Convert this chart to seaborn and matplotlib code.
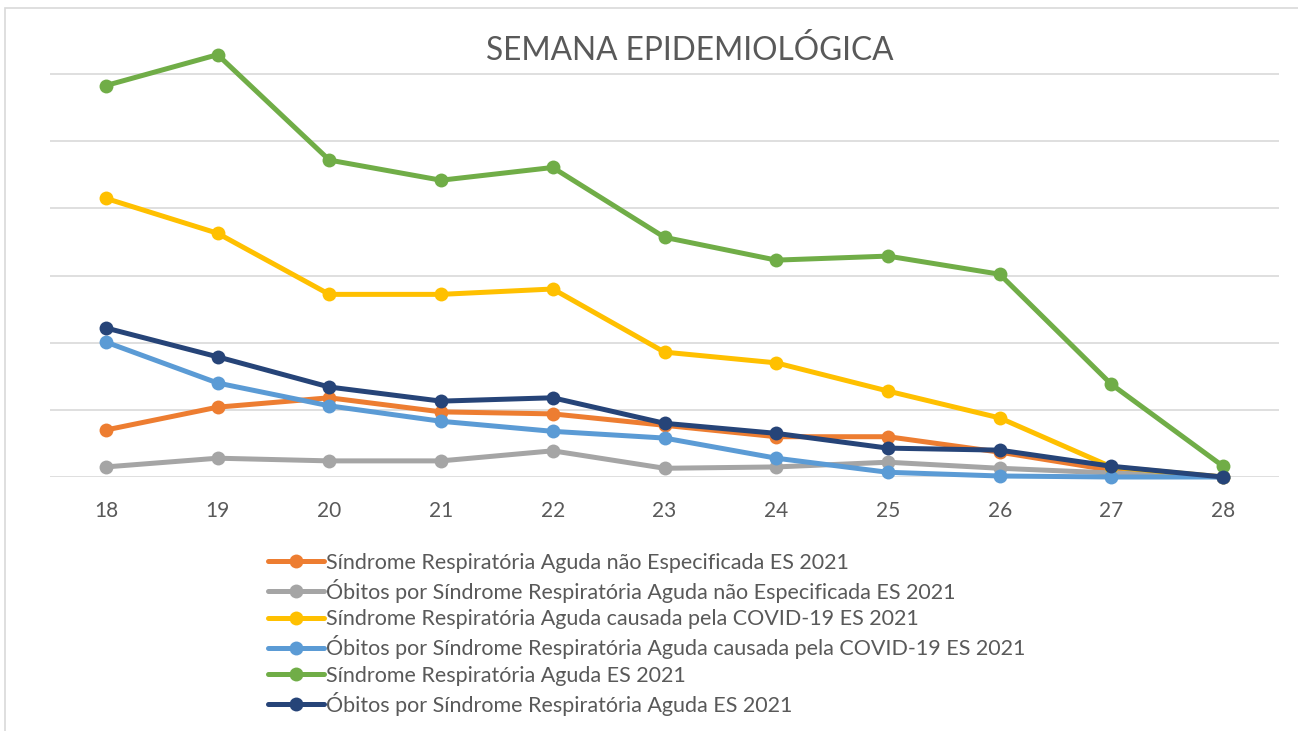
import pandas as pd
import numpy as np
import matplotlib
matplotlib.use("Agg")
import matplotlib.pyplot as plt
import seaborn as sns
from matplotlib.patches import Rectangle

semanas = [18, 19, 20, 21, 22, 23, 24, 25, 26, 27, 28]

srag_nao_espec = [70, 104, 118, 97, 94, 77, 60, 60, 37, 10, 0]
obitos_nao_espec = [15, 28, 24, 24, 39, 13, 15, 22, 13, 6, 0]
srag_covid = [415, 363, 272, 272, 280, 186, 170, 128, 88, 15, 0]
obitos_covid = [201, 140, 106, 83, 68, 58, 28, 7, 1.5, 0, 0]
srag_total = [583, 629, 472, 442, 461, 357, 323, 329, 302, 138, 16]
obitos_total = [222, 179, 134, 113, 118, 80, 65, 43, 40, 16, 0]

nomes = [
    "Síndrome Respiratória Aguda não Especificada ES 2021",
    "Óbitos por Síndrome Respiratória Aguda não Especificada ES 2021",
    "Síndrome Respiratória Aguda causada pela COVID-19 ES 2021",
    "Óbitos por Síndrome Respiratória Aguda causada pela COVID-19 ES 2021",
    "Síndrome Respiratória Aguda ES 2021",
    "Óbitos por Síndrome Respiratória Aguda ES 2021",
]
cores = ["#ED7D31", "#A5A5A5", "#FFC000", "#5B9BD5", "#70AD47", "#264478"]
series = [srag_nao_espec, obitos_nao_espec, srag_covid, obitos_covid, srag_total, obitos_total]

sns.set_style("white")
plt.rcParams["font.family"] = ["Lato", "DejaVu Sans"]

fig = plt.figure(figsize=(12.98, 7.31), dpi=100)
# chart frame
fig.patches.append(Rectangle((5 / 1298, -0.05), 1.1, 1 - 8 / 731 + 0.05,
                             transform=fig.transFigure, fill=False,
                             edgecolor="#d9d9d9", linewidth=1.2))

ax = fig.add_axes([50 / 1298, 1 - 477 / 731, 1229 / 1298, 470 / 731])

for nome, cor, vals in zip(nomes, cores, series):
    d = pd.DataFrame({"semana": semanas, "valor": vals})
    sns.lineplot(data=d, x="semana", y="valor", ax=ax, color=cor, label=nome,
                 linewidth=3.6, marker="o", markersize=10, markeredgewidth=0,
                 clip_on=False)

ax.set_xlim(17.5, 28.5)
ax.set_ylim(0, 700)
ax.set_yticks([0, 100, 200, 300, 400, 500, 600])
ax.set_yticklabels([])
ax.tick_params(axis="y", length=0)
ax.set_xticks(semanas)
ax.set_xticklabels([str(s) for s in semanas], fontsize=15, color="#595959")
ax.tick_params(axis="x", length=0, pad=17)
ax.grid(axis="y", color="#d9d9d9", linewidth=1.2)
ax.set_axisbelow(True)
for s in ax.spines.values():
    s.set_visible(False)
ax.set_xlabel("")
ax.set_ylabel("")

fig.text(690 / 1298, 1 - 50 / 731, "SEMANA EPIDEMIOLÓGICA", ha="center", va="center",
         fontsize=22.8, color="#595959")

leg = ax.legend(loc="upper left", bbox_to_anchor=(259 / 1298, 1 - 544 / 731),
                bbox_transform=fig.transFigure, frameon=False, fontsize=15.5,
                handlelength=2.6, handletextpad=0.1, labelspacing=0.29,
                borderaxespad=0)
for t in leg.get_texts():
    t.set_color("#595959")

fig.savefig("out.png", dpi=100)
